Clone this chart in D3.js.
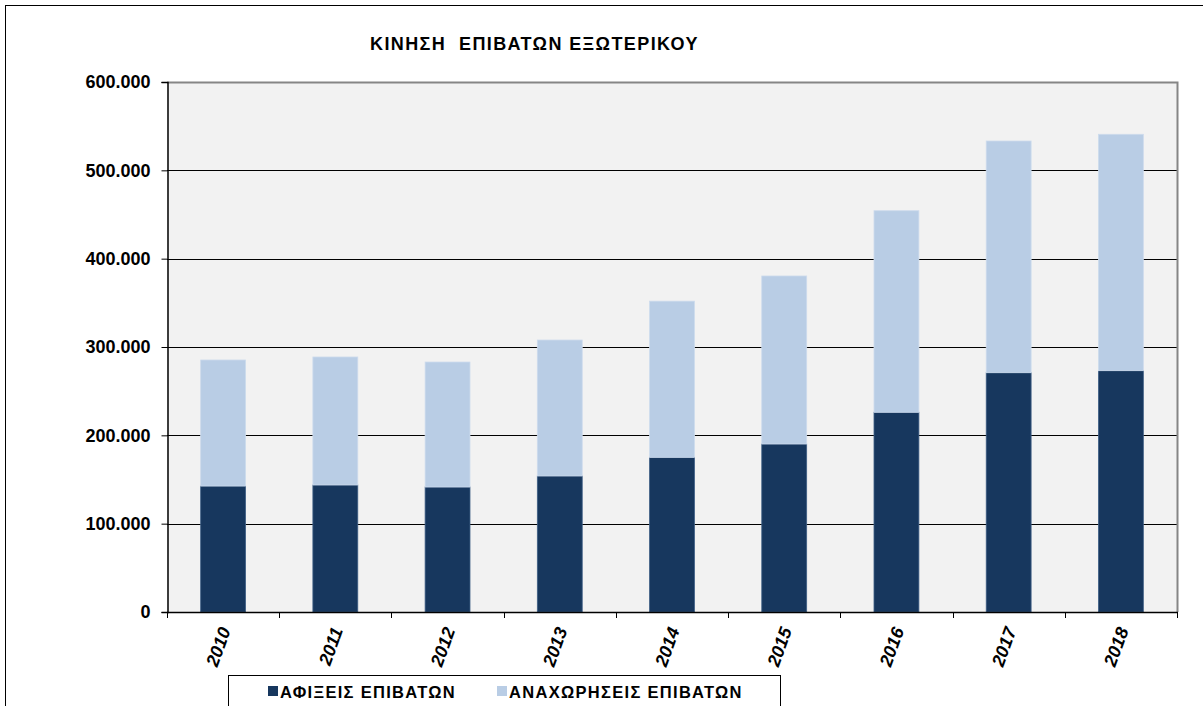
<!DOCTYPE html>
<html>
<head>
  <meta charset="utf-8">
  <script src="https://cdnjs.cloudflare.com/ajax/libs/d3/7.8.5/d3.min.js"></script>
  <title>Κίνηση επιβατών εξωτερικού</title>
  <style>
    body { margin: 0; background: #fff; }
    svg { display: block; font-family: "Liberation Sans", Arial, sans-serif; }
    .axis text { font-weight: bold; fill: #000; }
  </style>
</head>
<body>
<script>
// values
var years = ["2010", "2011", "2012", "2013", "2014", "2015", "2016", "2017", "2018"];
var arrivals = [142600, 143800, 141500, 154000, 175100, 190200, 226100, 270900, 273200];
var departures = [142700, 144900, 141500, 153900, 176800, 190200, 228200, 262300, 267600];
var yTicks = [0, 100000, 200000, 300000, 400000, 500000, 600000];
var seriesNames = ["ΑΦΙΞΕΙΣ ΕΠΙΒΑΤΩΝ", "ΑΝΑΧΩΡΗΣΕΙΣ ΕΠΙΒΑΤΩΝ"];
var colors = ["#17375e", "#b9cde5"];

var W = 1203, H = 706;
var plot = { left: 167, top: 82, right: 1177, bottom: 612 };

var svg = d3.select("body").append("svg")
    .attr("width", W)
    .attr("height", H);

// outer chart frame (right/bottom run off the page)
svg.append("rect")
    .attr("x", 5.5).attr("y", 5.5)
    .attr("width", W + 20).attr("height", H + 20)
    .attr("fill", "#fff").attr("stroke", "#000");

var greek = d3.formatLocale({ decimal: ",", thousands: ".", grouping: [3], currency: ["", "€"] });

var x = d3.scaleBand()
    .domain(years)
    .range([plot.left, plot.right])
    .paddingInner(0.6)
    .paddingOuter(0.3);

var y = d3.scaleLinear()
    .domain([0, 600000])
    .range([plot.bottom, plot.top]);

// plot background
svg.append("rect")
    .attr("x", plot.left).attr("y", plot.top)
    .attr("width", plot.right - plot.left).attr("height", plot.bottom - plot.top)
    .attr("fill", "#f2f2f2");

// gridlines
svg.append("g")
  .selectAll("line")
  .data(yTicks.filter(d => d > 0 && d < 600000))
  .enter().append("line")
    .attr("x1", plot.left).attr("x2", plot.right)
    .attr("y1", d => Math.round(y(d)) + 0.5).attr("y2", d => Math.round(y(d)) + 0.5)
    .attr("stroke", "#000");

// stacked bars
var rows = years.map((yr, i) => ({ year: yr, a: arrivals[i], d: departures[i] }));
var stack = d3.stack().keys(["a", "d"])(rows);

svg.append("g")
  .selectAll("g")
  .data(stack)
  .enter().append("g")
    .attr("fill", (s, i) => colors[i])
    .attr("stroke", (s, i) => i === 0 ? "#3f5f85" : "#cddbed")
    .attr("stroke-width", 0.8)
  .selectAll("rect")
  .data(s => s)
  .enter().append("rect")
    .attr("x", d => x(d.data.year))
    .attr("width", x.bandwidth())
    .attr("y", d => y(d[1]))
    .attr("height", d => y(d[0]) - y(d[1]));

// plot border top / right
svg.append("path")
    .attr("d", "M" + plot.left + "," + (plot.top + 0.5) + "H" + (plot.right + 0.5) + "V" + plot.bottom)
    .attr("fill", "none").attr("stroke", "#868686").attr("stroke-width", 2);

// y axis
var yAxis = d3.axisLeft(y)
    .tickValues(yTicks)
    .tickSize(6)
    .tickPadding(11)
    .tickFormat(d => d === 0 ? "0" : greek.format(",")(d));

var gy = svg.append("g")
    .attr("class", "axis")
    .attr("transform", "translate(" + (plot.left + 0.5) + ",0)")
    .call(yAxis);
gy.select(".domain").attr("stroke", "#000").attr("stroke-width", 1.5);
gy.selectAll("line").attr("stroke", "#000");
gy.selectAll("text").style("font-size", "18px");

// x axis: ticks between categories
var boundaries = d3.range(years.length + 1).map(i => plot.left + i * (plot.right - plot.left) / years.length);
svg.append("line")
    .attr("x1", plot.left).attr("x2", plot.right + 1)
    .attr("y1", plot.bottom + 0.5).attr("y2", plot.bottom + 0.5)
    .attr("stroke", "#000").attr("stroke-width", 1.5);
svg.append("g")
  .selectAll("line")
  .data(boundaries)
  .enter().append("line")
    .attr("x1", d => Math.round(d) + 0.5).attr("x2", d => Math.round(d) + 0.5)
    .attr("y1", plot.bottom).attr("y2", plot.bottom + 6)
    .attr("stroke", "#000");

svg.append("g")
    .attr("class", "axis")
  .selectAll("text")
  .data(years)
  .enter().append("text")
    .attr("transform", d => "translate(" + (x(d) + x.bandwidth() / 2 + 2) + "," + (plot.bottom + 16) + ") rotate(-70)")
    .attr("text-anchor", "end")
    .attr("dy", "0.35em")
    .style("font-size", "18px")
    .style("font-style", "italic")
    .text(d => d);

// title
svg.append("text")
    .attr("x", 370).attr("y", 50)
    .style("font-size", "18px")
    .style("font-weight", "bold")
    .style("letter-spacing", "1.4px")
    .attr("xml:space", "preserve")
    .text("ΚΙΝΗΣΗ  ΕΠΙΒΑΤΩΝ ΕΞΩΤΕΡΙΚΟΥ");

// legend
var lg = svg.append("g");
lg.append("rect")
    .attr("x", 228.5).attr("y", 675.5)
    .attr("width", 552).attr("height", 60)
    .attr("fill", "#fff").attr("stroke", "#000");
var legendX = [268, 497];
seriesNames.forEach(function(name, i) {
  lg.append("rect")
      .attr("x", legendX[i]).attr("y", 686)
      .attr("width", 10).attr("height", 10)
      .attr("fill", colors[i]);
  lg.append("text")
      .attr("x", legendX[i] + 12).attr("y", 698)
      .attr("xml:space", "preserve")
      .style("font-size", "16.5px")
      .style("font-weight", "bold")
      .style("letter-spacing", "1.3px")
      .text(name);
});
</script>
</body>
</html>
